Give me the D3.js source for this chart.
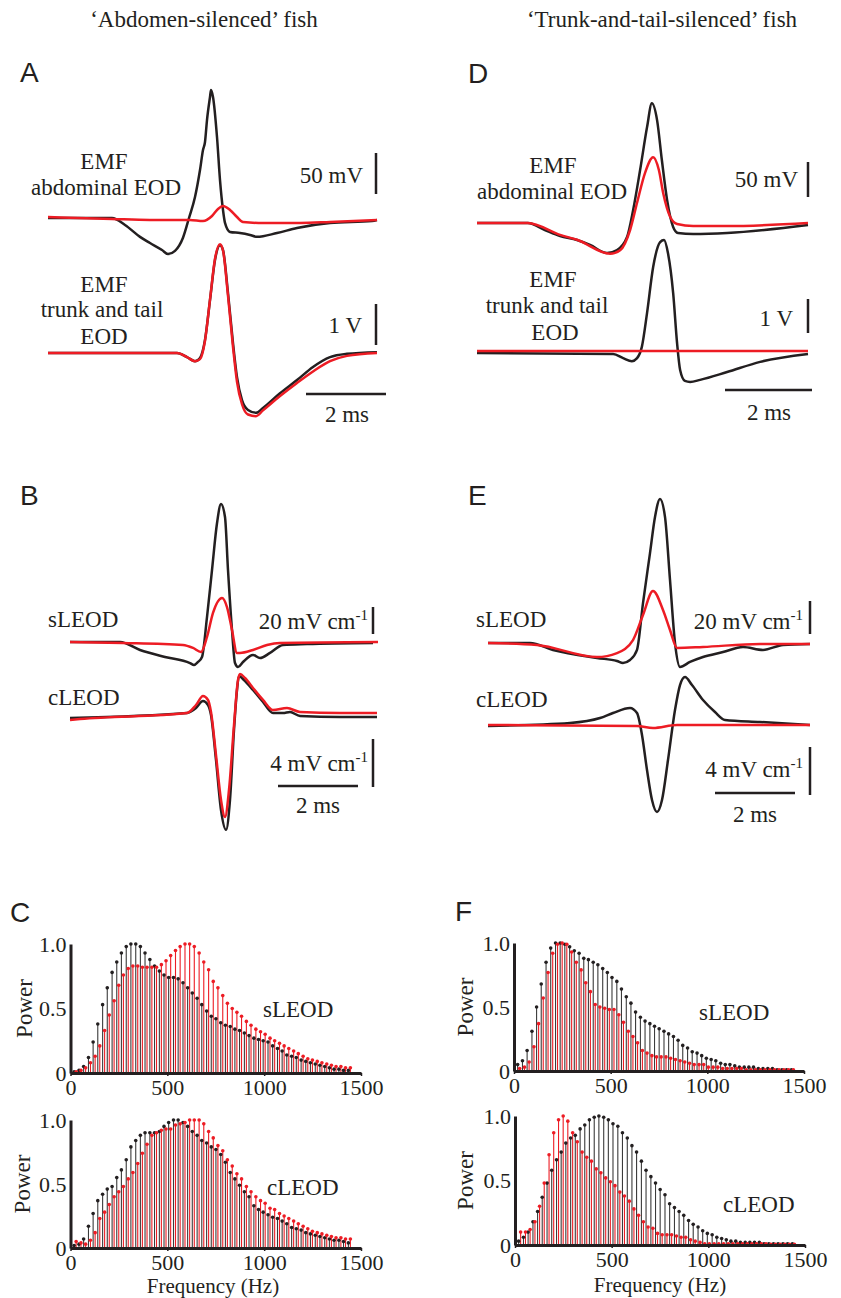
<!DOCTYPE html>
<html>
<head>
<meta charset="utf-8">
<script src="https://cdn.jsdelivr.net/npm/d3@7"></script>
<style>
  body { margin: 0; background: #fff; }
  svg text { font-family: "Liberation Serif", "Times New Roman", serif; fill: #231f20; }
  svg text.letter { font-family: "Liberation Sans", Arial, sans-serif; }
</style>
</head>
<body>
<svg id="fig" width="841" height="1298"></svg>
<script>
var BLACK = "#231f20", RED = "#ed1c24";

// ---------- waveforms, [time (ms), amplitude] ----------
// A top: EMF abdominal EOD (mV)
var aAbdBlack = [[0,0],[1.6,0],[1.925,-8.5],[2.3,-23],[2.55,-30.5],[2.85,-39],[3.0,-44],[3.175,-40],[3.375,-24],[3.525,0],[3.675,25.6],[3.8,58.5],[3.875,82.9],[3.925,92.7],[3.975,119.5],[4.05,147.6],[4.075,156],[4.125,147.6],[4.225,98.8],[4.3,46.3],[4.375,9.8],[4.425,-6],[4.55,-17],[4.8,-18.3],[5.05,-20.7],[5.225,-23],[5.725,-18.3],[6.225,-12.2],[7.05,-6.1],[8.1,-3.7],[8.225,-2.4]];
var aAbdRed = [[0,1.2],[1.6,-1.2],[2.55,-2.4],[3.55,-2.4],[3.875,-3.7],[4.1,2.4],[4.25,11],[4.375,14.6],[4.55,9.8],[4.725,1.2],[4.875,-4.9],[5.375,-6.1],[6.3,-6.1],[7.05,-4.9],[8.225,-2.4]];
// A bottom: EMF trunk and tail EOD (V)
var aTrkBlack = [[0,0],[3.225,0],[3.475,-0.1],[3.675,-0.2],[3.8,-0.12],[3.925,0.32],[4.05,1.29],[4.175,2.27],[4.3,2.63],[4.375,2.51],[4.5,1.46],[4.625,0.24],[4.725,-0.59],[4.85,-1.15],[5.0,-1.39],[5.2,-1.46],[5.375,-1.34],[5.8,-0.98],[6.225,-0.66],[6.625,-0.34],[7.05,-0.1],[7.475,-0.02],[8.225,0.02]];
var aTrkRed = [[0,0],[3.225,0],[3.475,-0.1],[3.675,-0.2],[3.8,-0.15],[3.925,0.3],[4.05,1.3],[4.175,2.3],[4.3,2.65],[4.375,2.5],[4.5,1.4],[4.625,0.15],[4.725,-0.7],[4.85,-1.25],[5.0,-1.5],[5.2,-1.54],[5.375,-1.4],[5.8,-1.05],[6.225,-0.73],[6.625,-0.45],[7.05,-0.2],[7.475,-0.07],[8.225,0]];

// D top: EMF abdominal EOD (mV)
var dAbdBlack = [[0,0],[1.17,0],[1.56,-10],[1.91,-18.6],[2.3,-24.3],[2.6,-31.4],[2.99,-42.9],[3.22,-38.6],[3.45,-20],[3.59,18.6],[3.75,75.7],[3.91,137],[4.02,171],[4.14,147],[4.25,90],[4.37,33],[4.51,-5.7],[4.62,-14.3],[4.97,-15.7],[5.75,-14.3],[7.61,-2.9]];
var dAbdRed = [[0,0],[1.17,0],[1.91,-17],[2.3,-24],[3.06,-44],[3.29,-39],[3.52,-10],[3.68,29],[3.86,71],[4.05,94],[4.18,76],[4.28,43],[4.44,9],[4.6,-1.4],[4.97,-4.3],[5.75,-4.3],[7.61,0]];
// D bottom: EMF trunk and tail EOD (V)
var dTrkBlack = [[0,0],[3.13,-0.03],[3.36,-0.15],[3.56,-0.24],[3.68,-0.15],[3.79,0.18],[3.91,1.18],[4.05,2.53],[4.21,3.26],[4.3,3.32],[4.39,2.94],[4.51,1.76],[4.6,0.29],[4.67,-0.5],[4.78,-0.82],[4.9,-0.85],[5.13,-0.79],[5.75,-0.56],[6.51,-0.26],[7.61,-0.03]];
var dTrkRed = [[0,0.06],[7.61,0.06]];

// B top: sLEOD (mV cm-1)
var bSBlack = [[0,0],[1.25,0],[1.75,-5.9],[2.375,-11.1],[3.0,-15.6],[3.1,-17],[3.2,-14.8],[3.3,-11.1],[3.425,18.5],[3.55,53.3],[3.675,88],[3.775,102.2],[3.875,92.6],[3.95,53.3],[4.05,8.9],[4.125,-15.6],[4.2,-18.5],[4.325,-14.8],[4.575,-9.6],[4.75,-11.9],[5.0,-8.1],[5.325,-2.2],[5.925,-1.5],[7.575,-0.7]];
var bSRed = [[0,0],[1.325,-0.7],[2.825,-2.2],[3.075,-4.4],[3.275,-7.4],[3.425,3.7],[3.575,21.5],[3.8,32.6],[3.925,25.9],[4.05,8.9],[4.175,-8.1],[4.25,-8.1],[4.575,-5.9],[4.925,-2.2],[5.25,-0.7],[7.7,0]];
// B bottom: cLEOD (mV cm-1)
var bCBlack = [[0,-0.08],[2.925,0.33],[3.15,0.75],[3.325,1.33],[3.45,1.0],[3.525,0.17],[3.65,-3.58],[3.775,-7.75],[3.9,-9.4],[4.0,-6.9],[4.1,-1.08],[4.175,2.25],[4.225,3.42],[4.35,3.08],[4.575,2.25],[4.825,1.25],[5.075,0.33],[5.325,0.33],[5.5,0.42],[5.75,0.08],[6.75,0],[7.675,0]];
var bCRed = [[0,-0.25],[0.25,-0.17],[2.925,0.33],[3.15,1.0],[3.325,1.75],[3.45,1.42],[3.525,0.42],[3.65,-3.17],[3.775,-6.9],[3.875,-8.33],[3.975,-6.08],[4.1,-0.67],[4.2,3.08],[4.25,3.58],[4.375,3.25],[4.575,2.42],[4.825,1.42],[5.075,0.58],[5.425,0.75],[5.75,0.42],[6.75,0.33],[7.675,0.33]];

// E top: sLEOD (mV cm-1)
var eSBlack = [[0,0],[1.05,0],[1.625,-4.2],[2.725,-9.1],[3.225,-10.9],[3.375,-12.1],[3.55,-10.3],[3.725,-4.2],[3.875,24.2],[4.05,54.5],[4.175,76.4],[4.3,87.3],[4.425,76.4],[4.55,38.2],[4.675,0],[4.8,-14.5],[5.05,-11.5],[5.375,-8.5],[5.875,-5.5],[6.375,-2.4],[6.875,-4.2],[7.375,-1.2],[8.05,-0.6]];
var eSRed = [[0,0],[1.225,-1.2],[2.725,-8.5],[3.225,-6.1],[3.625,1.8],[3.875,17],[4.125,31.5],[4.375,20],[4.55,7.9],[4.725,-3.0],[5.375,-2.4],[6.8,-0.6],[8.05,-0.6]];
// E bottom: cLEOD (mV cm-1)
var eCBlack = [[0,-0.08],[2.05,0.17],[2.8,0.58],[3.125,1.0],[3.55,1.42],[3.725,1.0],[3.85,-0.83],[3.975,-3.75],[4.1,-6.25],[4.225,-7.25],[4.35,-6.25],[4.5,-2.92],[4.675,1.25],[4.8,3.33],[4.925,4.0],[5.1,3.33],[5.375,2.08],[5.675,1.08],[5.925,0.42],[6.8,0.25],[8.05,0]];
var eCRed = [[0,0],[3.725,-0.08],[4.125,-0.25],[4.725,0],[8.05,0]];

// ---------- power spectra ----------
var freqs = [24,49,73,98,122,146,171,195,220,244,268,293,317,342,366,390,415,439,464,488,512,537,561,586,610,634,659,683,708,732,756,781,805,830,854,878,903,927,952,976,1000,1025,1049,1074,1098,1122,1147,1171,1196,1220,1244,1269,1293,1318,1342,1366,1391,1415,1440];
var cSBlack = [0.01,0.02,0.05,0.12,0.24,0.38,0.53,0.66,0.78,0.86, 0.93,0.98,1.0,1.0,0.98,0.93,0.88,0.83,0.79,0.76, 0.74,0.74,0.73,0.70,0.66,0.62,0.58,0.53,0.48,0.44, 0.42,0.39,0.37,0.36,0.34,0.33,0.31,0.29,0.27,0.26, 0.25,0.24,0.21,0.19,0.17,0.14,0.13,0.12,0.10,0.09, 0.08,0.07,0.06,0.05,0.04,0.03,0.03,0.02,0.02];
var cSRed = [0.01,0.02,0.04,0.08,0.13,0.21,0.33,0.45,0.56,0.68, 0.76,0.81,0.83,0.83,0.82,0.82,0.82,0.82,0.84,0.87, 0.91,0.95,0.98,1.0,1.0,0.98,0.93,0.86,0.80,0.71, 0.66,0.60,0.54,0.50,0.47,0.44,0.40,0.37,0.34,0.32, 0.30,0.27,0.25,0.23,0.21,0.19,0.17,0.15,0.13,0.11, 0.10,0.09,0.08,0.07,0.06,0.05,0.05,0.04,0.04];
var cCBlack = [0.02,0.03,0.07,0.17,0.27,0.37,0.42,0.46,0.48,0.55, 0.61,0.69,0.79,0.84,0.88,0.90,0.90,0.90,0.91,0.95, 0.98,1.0,1.0,0.98,0.95,0.91,0.88,0.84,0.82,0.79, 0.77,0.73,0.67,0.59,0.54,0.49,0.44,0.40,0.33,0.30, 0.28,0.26,0.24,0.23,0.21,0.19,0.16,0.15,0.14,0.12, 0.11,0.10,0.09,0.08,0.07,0.06,0.06,0.05,0.04];
var cCRed = [0.05,0.04,0.03,0.06,0.12,0.23,0.28,0.34,0.40,0.44, 0.48,0.54,0.59,0.66,0.74,0.81,0.88,0.90,0.92,0.93, 0.93,0.96,0.97,0.98,1.0,1.0,1.0,0.97,0.91,0.86, 0.80,0.76,0.69,0.64,0.58,0.54,0.48,0.44,0.40,0.37, 0.35,0.31,0.30,0.27,0.25,0.23,0.21,0.19,0.17,0.15, 0.13,0.12,0.11,0.10,0.09,0.08,0.08,0.07,0.07];
var fSBlack = [0.05,0.08,0.16,0.31,0.50,0.68,0.85,0.96,1.0,1.0, 0.99,0.97,0.94,0.92,0.88,0.87,0.85,0.83,0.80,0.77, 0.73,0.70,0.64,0.58,0.53,0.46,0.42,0.39,0.37,0.35, 0.33,0.31,0.29,0.27,0.24,0.20,0.18,0.15,0.14,0.12, 0.10,0.09,0.08,0.06,0.05,0.05,0.04,0.03,0.03,0.03, 0.03,0.02,0.02,0.02,0.02,0.01,0.01,0.01,0.01];
var fSRed = [0.02,0.03,0.07,0.19,0.37,0.57,0.77,0.92,0.99,1.0, 0.99,0.93,0.85,0.79,0.69,0.62,0.52,0.50,0.49,0.48, 0.48,0.44,0.38,0.31,0.27,0.22,0.16,0.14,0.12,0.11, 0.11,0.11,0.10,0.09,0.08,0.07,0.06,0.05,0.05,0.05, 0.03,0.03,0.03,0.02,0.02,0.02,0.02,0.02,0.01,0.01, 0.01,0.01,0.01,0.01,0.01,0.01,0.01,0.01,0.01];
var fCBlack = [0.03,0.06,0.10,0.18,0.26,0.37,0.48,0.58,0.66,0.72, 0.79,0.83,0.85,0.90,0.93,0.97,0.99,1.0,0.99,0.97, 0.94,0.92,0.87,0.83,0.77,0.72,0.65,0.58,0.53,0.48, 0.43,0.39,0.32,0.29,0.26,0.23,0.19,0.16,0.14,0.11, 0.09,0.08,0.06,0.05,0.04,0.03,0.03,0.02,0.02,0.02, 0.02,0.02,0.01,0.01,0.01,0.01,0.01,0.01,0.01];
var fCRed = [0.10,0.10,0.12,0.18,0.30,0.48,0.70,0.87,0.97,1.0, 0.96,0.87,0.80,0.72,0.68,0.65,0.59,0.56,0.52,0.49, 0.46,0.41,0.38,0.34,0.28,0.23,0.18,0.14,0.13,0.09, 0.08,0.08,0.08,0.07,0.06,0.06,0.04,0.03,0.02,0.01, 0.01,0.01,0.01,0.01,0.01,0.01,0.01,0.01,0.01,0.01, 0.01,0.01,0.01,0.005,0.005,0.005,0.005,0.005,0.005];
var freqTicks = [0, 500, 1000, 1500];
var powerTicks = [0, 0.5, 1];

var svg = d3.select("#fig");

function text(x, y, str, anchor, size, cls) {
  return svg.append("text").attr("x", x).attr("y", y)
    .attr("text-anchor", anchor || "start")
    .attr("font-size", size || 23)
    .attr("class", cls || null)
    .text(str);
}

// "20 mV cm" with a raised "-1"
function unitText(x, y, str) {
  var t = svg.append("text").attr("x", x).attr("y", y)
    .attr("text-anchor", "end").attr("font-size", 23);
  t.append("tspan").text(str);
  t.append("tspan").attr("dy", -9).attr("font-size", 15).text("-1");
}

function trace(data, xs, ys, color) {
  var line = d3.line().x(d => xs(d[0])).y(d => ys(d[1])).curve(d3.curveMonotoneX);
  svg.append("path").datum(data)
    .attr("fill", "none").attr("stroke", color)
    .attr("stroke-width", 2.5).attr("stroke-linejoin", "round")
    .attr("d", line);
}

// vertical amplitude bar, length from the trace's own scale
function vbar(x, bottom, ys, val) {
  var len = ys(0) - ys(val);
  svg.append("line").attr("x1", x).attr("x2", x)
    .attr("y1", bottom - len).attr("y2", bottom)
    .attr("stroke", BLACK).attr("stroke-width", 2.5);
}

// horizontal time bar
function hbar(x0, y, xs, ms) {
  var len = xs(ms) - xs(0);
  svg.append("line").attr("x1", x0).attr("x2", x0 + len)
    .attr("y1", y).attr("y2", y)
    .attr("stroke", BLACK).attr("stroke-width", 2.5);
}

// column titles and panel letters
text(204, 27, "\u2018Abdomen-silenced\u2019 fish", "middle", 23);
text(662, 27, "\u2018Trunk-and-tail-silenced\u2019 fish", "middle", 23);
text(20, 82, "A", "start", 28, "letter");
text(468, 83, "D", "start", 28, "letter");
text(20, 505, "B", "start", 28, "letter");
text(468, 505, "E", "start", 28, "letter");
text(10, 922, "C", "start", 28, "letter");
text(455, 921, "F", "start", 28, "letter");

// ---- panel A ----
var xA = d3.scaleLinear().domain([0, 8.225]).range([48, 377]);
var yA1 = d3.scaleLinear().domain([0, 50]).range([218, 177]);
var yA2 = d3.scaleLinear().domain([0, 1]).range([353, 312]);
trace(aAbdBlack, xA, yA1, BLACK);
trace(aAbdRed, xA, yA1, RED);
trace(aTrkBlack, xA, yA2, BLACK);
trace(aTrkRed, xA, yA2, RED);
vbar(376, 194, yA1, 50);
vbar(376, 345, yA2, 1);
hbar(306, 394, xA, 2);
text(104, 169, "EMF", "middle");
text(106, 195, "abdominal EOD", "middle");
text(363, 183, "50 mV", "end");
text(104, 292, "EMF", "middle");
text(102, 317, "trunk and tail", "middle");
text(104, 344, "EOD", "middle");
text(362, 333, "1 V", "end");
text(347, 422, "2 ms", "middle");

// ---- panel D ----
var xD = d3.scaleLinear().domain([0, 7.61]).range([477, 808]);
var yD1 = d3.scaleLinear().domain([0, 50]).range([223, 188]);
var yD2 = d3.scaleLinear().domain([0, 1]).range([353, 319]);
trace(dAbdBlack, xD, yD1, BLACK);
trace(dAbdRed, xD, yD1, RED);
trace(dTrkBlack, xD, yD2, BLACK);
trace(dTrkRed, xD, yD2, RED);
vbar(808, 197, yD1, 50);
vbar(808, 333, yD2, 1);
hbar(725, 390, xD, 2);
text(553, 173, "EMF", "middle");
text(552, 199, "abdominal EOD", "middle");
text(798, 187, "50 mV", "end");
text(553, 287, "EMF", "middle");
text(547, 313, "trunk and tail", "middle");
text(555, 340, "EOD", "middle");
text(793, 326, "1 V", "end");
text(769, 420, "2 ms", "middle");

// ---- panel B ----
var xB = d3.scaleLinear().domain([0, 7.7]).range([70, 378]);
var yB1 = d3.scaleLinear().domain([0, 20]).range([642, 615]);
var yB2 = d3.scaleLinear().domain([0, 4]).range([717, 669]);
trace(bSBlack, xB, yB1, BLACK);
trace(bSRed, xB, yB1, RED);
trace(bCBlack, xB, yB2, BLACK);
trace(bCRed, xB, yB2, RED);
vbar(373, 634, yB1, 20);
vbar(373, 787, yB2, 4);
hbar(278, 786, xB, 2);
text(48, 627, "sLEOD");
text(48, 705, "cLEOD");
unitText(368, 629, "20 mV cm");
unitText(368, 771, "4 mV cm");
text(318, 813, "2 ms", "middle");

// ---- panel E ----
var xE = d3.scaleLinear().domain([0, 8.05]).range([488, 810]);
var yE1 = d3.scaleLinear().domain([0, 20]).range([643, 610]);
var yE2 = d3.scaleLinear().domain([0, 4]).range([725, 677]);
trace(eSBlack, xE, yE1, BLACK);
trace(eSRed, xE, yE1, RED);
trace(eCBlack, xE, yE2, BLACK);
trace(eCRed, xE, yE2, RED);
vbar(810, 634, yE1, 20);
vbar(810, 795, yE2, 4);
hbar(715, 793, xE, 2);
text(476, 627, "sLEOD");
text(476, 707, "cLEOD");
unitText(803, 629, "20 mV cm");
unitText(803, 777, "4 mV cm");
text(755, 822, "2 ms", "middle");

// ---- spectra ----
function spectrum(black, red, box, name, nameX, nameY) {
  var x = d3.scaleLinear().domain([0, 1500]).range([box.x0, box.x1]);
  var y = d3.scaleLinear().domain([0, 1]).range([box.y0, box.y1]);
  var g = svg.append("g");

  [[black, "#3b3b3b", -1], [red, RED, 1]].forEach(function (s) {
    g.append("g").selectAll("line").data(s[0]).enter().append("line")
      .attr("x1", (d, i) => x(freqs[i]) + s[2]).attr("x2", (d, i) => x(freqs[i]) + s[2])
      .attr("y1", y(0)).attr("y2", d => y(d))
      .attr("stroke", s[1]).attr("stroke-width", 1.1);
  });
  [[black, BLACK, -1], [red, RED, 1]].forEach(function (s) {
    g.append("g").selectAll("circle").data(s[0]).enter().append("circle")
      .attr("cx", (d, i) => x(freqs[i]) + s[2]).attr("cy", d => y(d))
      .attr("r", 1.8).attr("fill", s[1]);
  });

  var xAxis = g.append("g").attr("transform", "translate(0," + box.y0 + ")")
    .call(d3.axisBottom(x).tickValues(freqTicks).tickFormat(d3.format("d"))
      .tickSize(3).tickSizeOuter(0).tickPadding(3));
  var yAxis = g.append("g").attr("transform", "translate(" + box.x0 + ",0)")
    .call(d3.axisLeft(y).tickValues(powerTicks)
      .tickFormat(d => d === 0 ? "0" : d3.format(".1f")(d))
      .tickSize(0).tickSizeOuter(0).tickPadding(4));
  [xAxis, yAxis].forEach(function (a) {
    a.select(".domain").attr("stroke", BLACK).attr("stroke-width", 3);
    a.selectAll(".tick line").attr("stroke", BLACK).attr("stroke-width", 1.5);
    a.selectAll(".tick text").attr("font-size", 22)
      .attr("font-family", "Liberation Serif, Times New Roman, serif").attr("fill", BLACK);
  });

  svg.append("text").attr("font-size", 23).attr("text-anchor", "middle")
    .attr("transform", "translate(" + box.powerX + "," + (box.y0 + box.y1) / 2 + ") rotate(-90)")
    .text("Power");
  text(nameX, nameY, name);
}

spectrum(cSBlack, cSRed, {x0: 70.5, x1: 361, y0: 1073, y1: 944, powerX: 32}, "sLEOD", 263, 1017);
spectrum(cCBlack, cCRed, {x0: 70.5, x1: 361, y0: 1248, y1: 1120, powerX: 30}, "cLEOD", 267, 1195);
spectrum(fSBlack, fSRed, {x0: 514, x1: 804, y0: 1071, y1: 943, powerX: 473}, "sLEOD", 699, 1020);
spectrum(fCBlack, fCRed, {x0: 515, x1: 805, y0: 1245, y1: 1116, powerX: 473}, "cLEOD", 723, 1212);
text(213, 1293, "Frequency (Hz)", "middle", 21);
text(660, 1292, "Frequency (Hz)", "middle", 21);
</script>
</body>
</html>
